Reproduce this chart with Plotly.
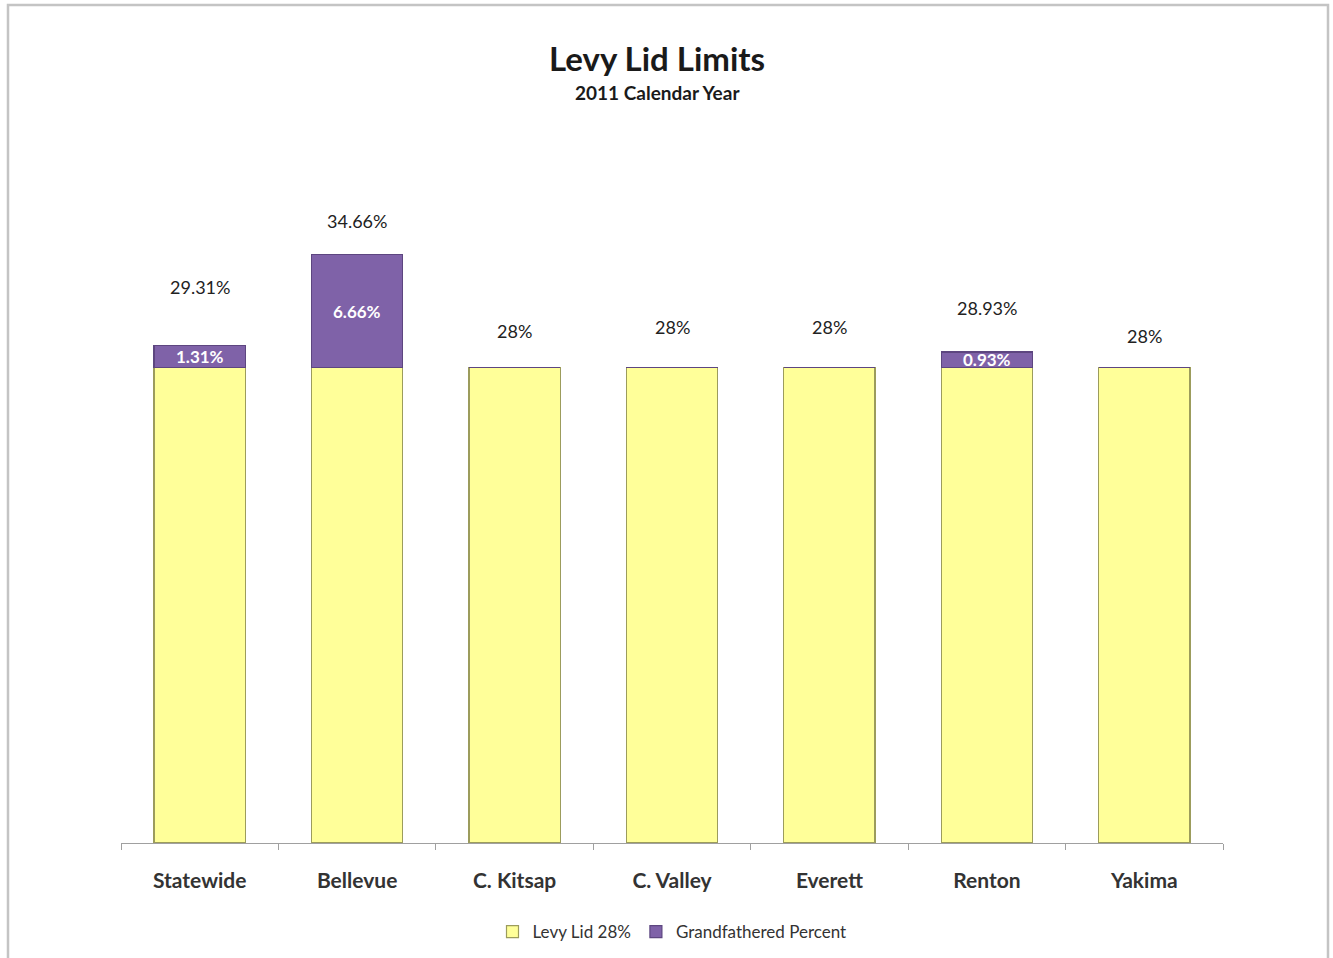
import plotly.graph_objects as go

# Levy lid limits by district, 2011 calendar year
districts = ["Statewide", "Bellevue", "C. Kitsap", "C. Valley", "Everett", "Renton", "Yakima"]
levy_lid = [28, 28, 28, 28, 28, 28, 28]
grandfathered = [1.31, 6.66, 0, 0, 0, 0.93, 0]
total_labels = ["29.31%", "34.66%", "28%", "28%", "28%", "28.93%", "28%"]
grand_labels = ["1.31%", "6.66%", "", "", "", "0.93%", ""]

# vertical offsets (px) of the total labels above each bar
label_shift = [46, 21, 24, 28, 28, 31, 19]

FONT = "Lato"
W, H = 1333, 958
ML, MR, MT, MB = 121, 110, 198, 115
plot_h = H - MT - MB
plot_w = W - ML - MR


def py(p):
    """pixel row -> paper y"""
    return (H - MB - p) / plot_h


def px(p):
    """pixel column -> paper x"""
    return (p - ML) / plot_w


fig = go.Figure()
fig.add_trace(go.Bar(
    x=districts, y=levy_lid, name="Levy Lid 28%",
    marker=dict(color="#FFFF99", line=dict(color="#9c9c5c", width=1.2)),
    width=0.58,
))
fig.add_trace(go.Bar(
    x=districts, y=grandfathered, name="Grandfathered Percent",
    marker=dict(color="#7F62A8", line=dict(color="#5d4680", width=1.2)),
    width=0.58,
))

annotations = []
for d, base, g, tl, gl, sh in zip(districts, levy_lid, grandfathered, total_labels, grand_labels, label_shift):
    annotations.append(dict(
        x=d, y=base + g, text=tl, showarrow=False, yanchor="bottom", yshift=sh,
        font=dict(family=FONT, size=18, color="#222222"),
    ))
    if gl:
        annotations.append(dict(
            x=d, y=base + g / 2, text=f"<b>{gl}</b>", showarrow=False,
            font=dict(family=FONT, size=17, color="#ffffff"),
        ))

annotations.append(dict(
    xref="paper", yref="paper", x=px(657), y=py(58), yanchor="middle",
    text="<b>Levy Lid Limits</b>",
    showarrow=False, font=dict(family=FONT, size=33, color="#1a1a1a"),
))
annotations.append(dict(
    xref="paper", yref="paper", x=px(657), y=py(93), yanchor="middle",
    text="<b>2011 Calendar Year</b>",
    showarrow=False, font=dict(family=FONT, size=19, color="#1a1a1a"),
))

fig.update_layout(
    width=W, height=H,
    margin=dict(l=ML, r=MR, t=MT, b=MB, autoexpand=False),
    paper_bgcolor="white", plot_bgcolor="white",
    barmode="stack",
    bargap=0.42,
    showlegend=True,
    legend=dict(
        orientation="h", traceorder="normal",
        xanchor="center", x=px(672), yanchor="middle", y=py(932),
        font=dict(family=FONT, size=17, color="#333333"), itemwidth=30,
    ),
    annotations=annotations,
    shapes=[dict(
        type="rect", xref="paper", yref="paper",
        x0=px(8), x1=px(1328), y0=py(970), y1=py(5),
        line=dict(color="#c4c4c4", width=2.5), fillcolor="rgba(0,0,0,0)", layer="below",
    )],
    xaxis=dict(
        showline=True, linecolor="#a0a0a0", linewidth=1.2,
        ticks="outside", tickson="boundaries", ticklen=6, tickcolor="#a0a0a0",
        tickfont=dict(family=FONT, size=21, color="#333333"),
        ticklabelstandoff=19,
        tickprefix="<b>", ticksuffix="</b>",
        showgrid=False,
    ),
    yaxis=dict(
        range=[0, 38], visible=False, showgrid=False, zeroline=False,
    ),
)

fig.write_html("out.html")
